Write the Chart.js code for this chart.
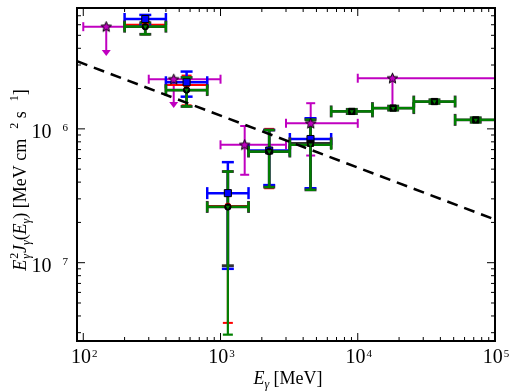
<!DOCTYPE html>
<html>
<head>
<meta charset="utf-8">
<script src="https://cdn.jsdelivr.net/npm/chart.js@4.4.1/dist/chart.umd.min.js"></script>
<style>
  body { margin: 0; background: #fff; }
  #grafico { display: block; }
</style>
</head>
<body>
<canvas id="grafico" width="510" height="392"></canvas>
<script>
// estrellas magenta (algunas son limites superiores)
let magX = [147, 456, 1500, 4540, 17900];
let magY = [5.8e-6, 2.35e-6, 7.6e-7, 1.1e-6, 2.39e-6];
let magXLo = [100, 300, 1000, 3000, 10000];
let magXHi = [200, 1000, 3000, 10000, 100000];
let magYLo = [3.5e-6, 1.43e-6, 4.54e-7, 6.32e-7, 1.41e-6];
let magYHi = [5.8e-6, 2.35e-6, 1.05e-6, 1.555e-6, 2.39e-6];
let magTipo = ["flecha", "flecha", "barra", "barra", "linea"];

// bins de energia (MeV)
let binLo = [200, 400, 800, 1600, 3200, 6400, 12800, 25600, 51200];
let binHi = [400, 800, 1600, 3200, 6400, 12800, 25600, 51200, 102400];
let binCentro = [283, 566, 1131, 2263, 4525, 9051, 18102, 36204, 72408];

let azulY = [6.62e-6, 2.23e-6, 3.31e-7, 6.89e-7, 8.4e-7];
let azulYLo = [5.98e-6, 1.74e-6, 9.0e-8, 3.8e-7, 3.6e-7];
let azulYHi = [7.1e-6, 2.68e-6, 5.64e-7, 9.8e-7, 1.2e-6];

let rojoY = [6.0e-6, 2.13e-6, 2.65e-7, 6.8e-7, 7.8e-7];
let rojoYLo = [5.09e-6, 1.5e-6, 3.55e-8, 3.6e-7, 3.5e-7];
let rojoYHi = [6.3e-6, 2.5e-6, 4.8e-7, 1.0e-6, 1.2e-6];

let negroY = [5.8e-6, 1.95e-6, 2.61e-7, 6.77e-7, 7.8e-7, 1.35e-6, 1.43e-6, 1.6e-6, 1.167e-6];
let negroYLo = [5.09e-6, 1.47e-6, 9.5e-8, 3.67e-7, 3.5e-7, 1.3e-6, 1.38e-6, 1.55e-6, 1.12e-6];
let negroYHi = [6.2e-6, 2.42e-6, 4.8e-7, 9.8e-7, 1.17e-6, 1.4e-6, 1.48e-6, 1.65e-6, 1.21e-6];

let verdeY = [5.8e-6, 1.95e-6, 2.61e-7, 6.77e-7, 7.6e-7, 1.35e-6, 1.43e-6, 1.6e-6, 1.167e-6];
let verdeYLo = [5.09e-6, 1.47e-6, 2.9e-8, 3.67e-7, 3.5e-7, 1.3e-6, 1.38e-6, 1.55e-6, 1.12e-6];
let verdeYHi = [6.2e-6, 2.42e-6, 4.8e-7, 9.8e-7, 1.17e-6, 1.4e-6, 1.48e-6, 1.65e-6, 1.21e-6];

// ley de potencias (linea discontinua)
let lineaX = [90, 100000];
let lineaY = [3.2e-6, 2.1e-7];

let ticksX = [1e2, 1e3, 1e4, 1e5];
let ticksY = [1e-7, 1e-6];

let fuente = "'Liberation Serif', 'Times New Roman', serif";
let magenta = "#c000c0";

function puntos(xs, ys) {
  return xs.map((x, i) => ({ x: x, y: ys[i] }));
}

// marcador estrella de 5 puntas
function crearEstrella() {
  let c = document.createElement("canvas");
  c.width = 13;
  c.height = 13;
  let g = c.getContext("2d");
  g.beginPath();
  for (let k = 0; k < 10; k++) {
    let r = k % 2 == 0 ? 5.5 : 2.4;
    let a = -Math.PI / 2 + (k * Math.PI) / 5;
    g.lineTo(6.5 + r * Math.cos(a), 6.8 + r * Math.sin(a));
  }
  g.closePath();
  g.fillStyle = magenta;
  g.fill();
  g.strokeStyle = "#000";
  g.lineWidth = 1;
  g.stroke();
  return c;
}

function linea(ctx, x0, y0, x1, y1) {
  ctx.beginPath();
  ctx.moveTo(x0, y0);
  ctx.lineTo(x1, y1);
  ctx.stroke();
}

function dibujarBarras(ctx, escX, escY, b) {
  ctx.save();
  ctx.strokeStyle = b.color;
  ctx.fillStyle = b.color;
  ctx.lineWidth = b.grosor;
  for (let i = 0; i < b.x.length; i++) {
    let px = escX.getPixelForValue(b.x[i]);
    let py = escY.getPixelForValue(b.y[i]);
    let x0 = escX.getPixelForValue(b.xLo[i]);
    let x1 = escX.getPixelForValue(b.xHi[i]);
    let y0 = escY.getPixelForValue(b.yLo[i]);
    let y1 = escY.getPixelForValue(b.yHi[i]);
    linea(ctx, x0, py, x1, py);
    linea(ctx, x0, py - b.cap, x0, py + b.cap);
    linea(ctx, x1, py - b.cap, x1, py + b.cap);
    let tipo = b.tipo ? b.tipo[i] : "barra";
    if (tipo == "flecha") {
      linea(ctx, px, py, px, y0 - 4);
      ctx.beginPath();
      ctx.moveTo(px - 4.5, y0 - 6);
      ctx.lineTo(px + 4.5, y0 - 6);
      ctx.lineTo(px, y0);
      ctx.closePath();
      ctx.fill();
    } else if (tipo == "linea") {
      linea(ctx, px, py, px, y0);
    } else {
      linea(ctx, px, y1, px, y0);
      linea(ctx, px - b.cap, y0, px + b.cap, y0);
      linea(ctx, px - b.cap, y1, px + b.cap, y1);
    }
  }
  ctx.restore();
}

// texto con super/subindices: {t, s, it, dx, dy, avanza}
function texto(ctx, partes, x, y, dibujar) {
  let cx = x;
  for (const p of partes) {
    ctx.font = (p.it ? "italic " : "") + p.s + "px " + fuente;
    let dx = p.dx || 0;
    if (dibujar) ctx.fillText(p.t, cx + dx, y + (p.dy || 0));
    if (p.avanza !== false) cx += ctx.measureText(p.t).width + dx;
  }
  return cx - x;
}

let tituloY = [
  { t: "E", s: 18, it: true },
  { t: "2", s: 12, dx: 1, dy: -8, avanza: false },
  { t: "γ", s: 12, it: true, dx: 1, dy: 4 },
  { t: "J", s: 18, it: true, dx: 1 },
  { t: "γ", s: 12, it: true, dy: 4 },
  { t: "(", s: 18 },
  { t: "E", s: 18, it: true },
  { t: "γ", s: 12, it: true, dy: 4 },
  { t: ")", s: 18 },
  { t: " [MeV cm", s: 18 },
  { t: "2", s: 12, dx: 10, dy: -8 },
  { t: " s", s: 18 },
  { t: "1", s: 12, dx: 10, dy: -8 },
  { t: "]", s: 18 },
];
let tituloX = [
  { t: "E", s: 18, it: true },
  { t: "γ", s: 12, it: true, dy: 4 },
  { t: " [MeV]", s: 18 },
];

let pluginEjes = {
  id: "ejes",
  beforeDatasetsDraw(chart) {
    let ctx = chart.ctx;
    let a = chart.chartArea;
    ctx.save();
    ctx.beginPath();
    ctx.rect(a.left, a.top, a.right - a.left, a.bottom - a.top);
    ctx.clip();
    for (const ds of chart.data.datasets) {
      if (ds.barras) dibujarBarras(ctx, chart.scales.x, chart.scales.y, ds.barras);
    }
    ctx.restore();
  },
  afterDraw(chart) {
    let ctx = chart.ctx;
    let a = chart.chartArea;
    let ex = chart.scales.x;
    let ey = chart.scales.y;
    ctx.save();
    ctx.strokeStyle = "#000";
    ctx.fillStyle = "#000";

    // marcas menores y mayores hacia dentro
    ctx.lineWidth = 1;
    for (let d = 1; d <= 5; d++) {
      for (let k = 1; k <= 9; k++) {
        let v = k * Math.pow(10, d);
        if (v < ex.min || v > ex.max) continue;
        let p = ex.getPixelForValue(v);
        let l = k == 1 ? 8 : 4;
        linea(ctx, p, a.bottom, p, a.bottom - l);
        linea(ctx, p, a.top, p, a.top + l);
      }
    }
    for (let d = -9; d <= -5; d++) {
      for (let k = 1; k <= 9; k++) {
        let v = k * Math.pow(10, d);
        if (v < ey.min || v > ey.max) continue;
        let p = ey.getPixelForValue(v);
        let l = k == 1 ? 8 : 4;
        linea(ctx, a.left, p, a.left + l, p);
        linea(ctx, a.right, p, a.right - l, p);
      }
    }

    ctx.lineWidth = 2;
    ctx.strokeRect(a.left, a.top, a.right - a.left, a.bottom - a.top);

    // etiquetas eje x
    ctx.textBaseline = "alphabetic";
    ctx.textAlign = "left";
    for (const v of ticksX) {
      let p = ex.getPixelForValue(v);
      let e = String(Math.round(Math.log10(v)));
      let partes = [{ t: "10", s: 20 }, { t: e, s: 11, dx: 1, dy: -6 }];
      let w = texto(ctx, partes, 0, 0, false);
      texto(ctx, partes, p - w / 2 + 1, a.bottom + 22, true);
    }
    // etiquetas eje y (el signo menos no aparece en la imagen)
    for (const v of ticksY) {
      let p = ey.getPixelForValue(v);
      let e = String(Math.abs(Math.round(Math.log10(v))));
      let partes = [{ t: "10", s: 20 }, { t: e, s: 11, dx: 11, dy: -7 }];
      let w = texto(ctx, partes, 0, 0, false);
      texto(ctx, partes, a.left - 9 - w, p + 9, true);
    }

    // titulos
    let w = texto(ctx, tituloX, 0, 0, false);
    texto(ctx, tituloX, 288 - w / 2, 384, true);

    ctx.translate(26, 180);
    ctx.rotate(-Math.PI / 2);
    w = texto(ctx, tituloY, 0, 0, false);
    texto(ctx, tituloY, -w / 2, 0, true);
    ctx.restore();
  },
};

let estrella = crearEstrella();
let verde = "#008000";

let datasets = [
  {
    label: "ajuste",
    data: puntos(lineaX, lineaY),
    showLine: true,
    borderColor: "#000",
    borderWidth: 2.5,
    borderDash: [11, 7],
    pointRadius: 0,
    order: 0,
  },
  {
    label: "magenta",
    data: puntos(magX, magY),
    pointStyle: estrella,
    order: 5,
    barras: { x: magX, y: magY, xLo: magXLo, xHi: magXHi, yLo: magYLo, yHi: magYHi, tipo: magTipo, color: magenta, grosor: 2, cap: 4.5 },
  },
  {
    label: "rojo",
    data: puntos(binCentro.slice(0, 5), rojoY),
    pointStyle: "circle",
    pointRadius: 3,
    backgroundColor: "#ff0000",
    borderColor: "#ff0000",
    order: 4,
    barras: { x: binCentro.slice(0, 5), y: rojoY, xLo: binLo, xHi: binHi.slice(0, 5), yLo: rojoYLo, yHi: rojoYHi, color: "#ff0000", grosor: 2, cap: 5 },
  },
  {
    label: "azul",
    data: puntos(binCentro.slice(0, 5), azulY),
    pointStyle: "rect",
    pointRadius: 5,
    backgroundColor: "#0000ff",
    borderColor: "#000",
    borderWidth: 1,
    order: 3,
    barras: { x: binCentro.slice(0, 5), y: azulY, xLo: binLo, xHi: binHi.slice(0, 5), yLo: azulYLo, yHi: azulYHi, color: "#0000ff", grosor: 2.5, cap: 6 },
  },
  {
    label: "negro",
    data: puntos(binCentro, negroY),
    pointStyle: (c) => (c.dataIndex < 4 ? "circle" : "rect"),
    pointRadius: (c) => (c.dataIndex < 4 ? 3.2 : 4.4),
    backgroundColor: "#000",
    borderColor: "#000",
    borderWidth: 1,
    order: 2,
    barras: { x: binCentro, y: negroY, xLo: binLo, xHi: binHi, yLo: negroYLo, yHi: negroYHi, color: "#333", grosor: 2.8, cap: 6 },
  },
  {
    label: "verde",
    data: puntos(binCentro, verdeY),
    pointStyle: "triangle",
    rotation: 180,
    pointRadius: 2.4,
    backgroundColor: verde,
    borderWidth: 0,
    order: 1,
    barras: { x: binCentro, y: verdeY, xLo: binLo, xHi: binHi, yLo: verdeYLo, yHi: verdeYHi, color: verde, grosor: 2.2, cap: 5 },
  },
];

new Chart(document.querySelector("#grafico"), {
  type: "scatter",
  data: { datasets },
  options: {
    responsive: false,
    animation: false,
    devicePixelRatio: 1,
    layout: { padding: { left: 77, right: 15, top: 8, bottom: 51 } },
    plugins: { legend: { display: false }, tooltip: { enabled: false } },
    scales: {
      x: { type: "logarithmic", min: 90, max: 100000, display: false },
      y: { type: "logarithmic", min: 2.6e-8, max: 8e-6, display: false },
    },
  },
  plugins: [pluginEjes],
});
</script>
</body>
</html>
